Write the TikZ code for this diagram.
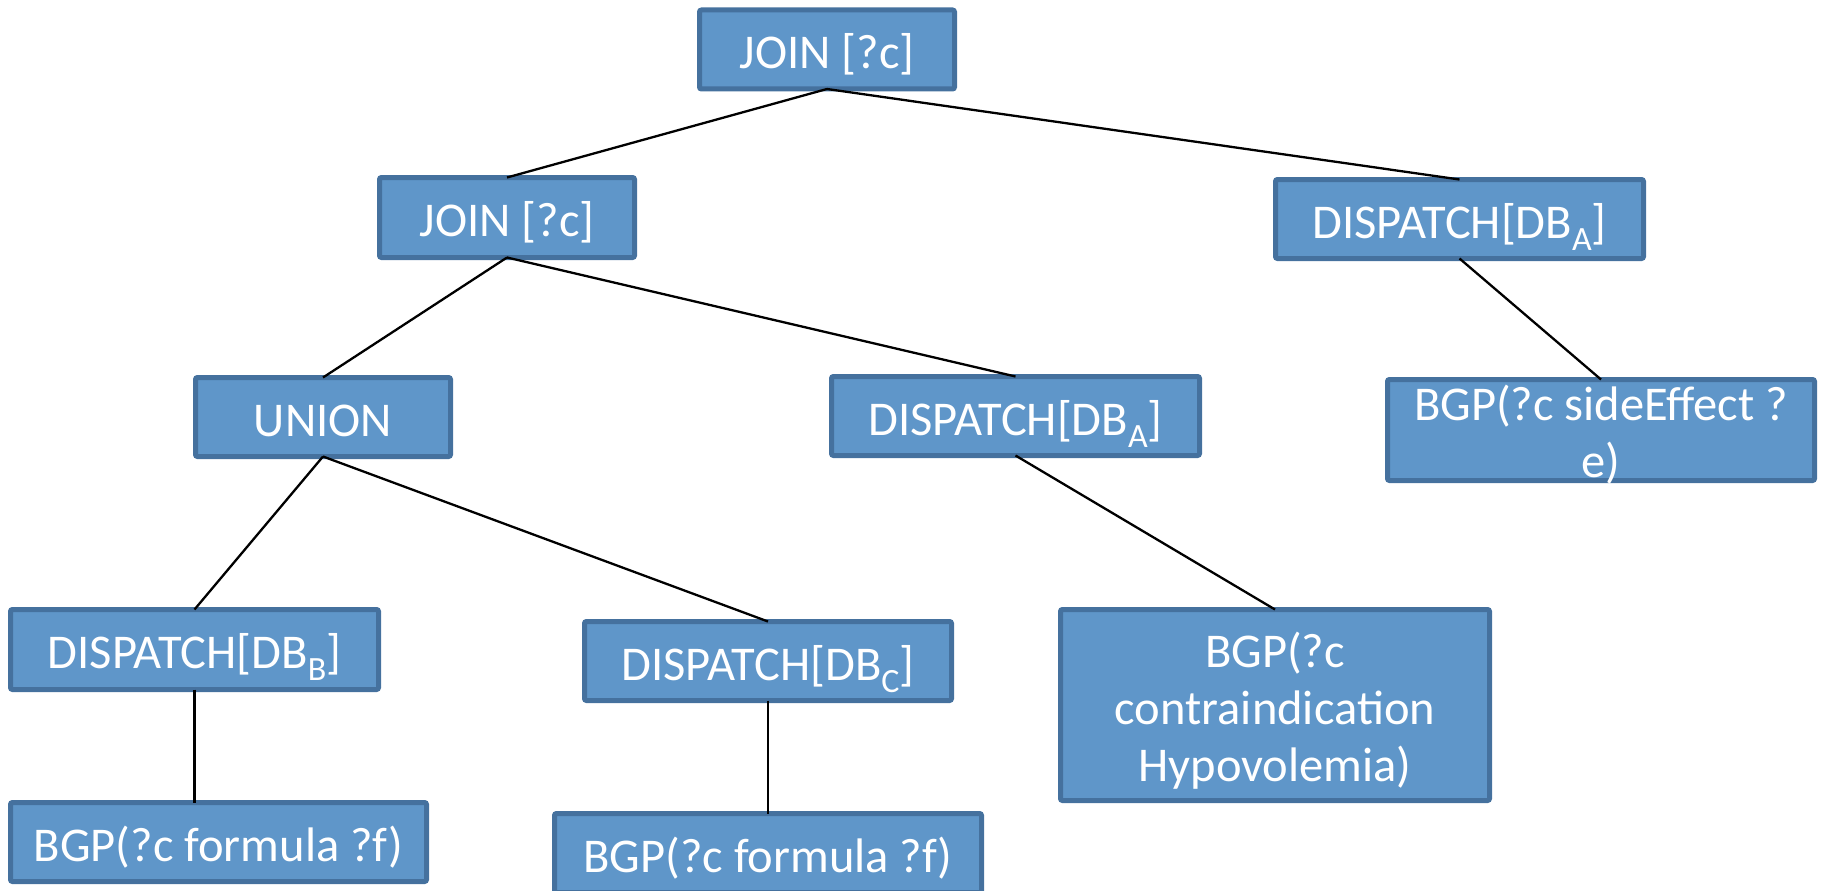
\documentclass[tikz,border=0pt]{standalone}
\usepackage{fontspec}
\setmainfont{Carlito}
\definecolor{boxfill}{HTML}{5F96C9}
\definecolor{boxdraw}{HTML}{45719E}
\newcommand{\boxfont}{\fontsize{48.5}{57}\selectfont\lineskiplimit=-100pt\relax}
\newcommand{\lstrut}{\rule[-9.5pt]{0pt}{57pt}}
\newcommand{\dbsub}[1]{\raisebox{-12pt}[0pt][0pt]{\fontsize{34}{34}\selectfont #1}}
\tikzset{
  box/.style={draw=boxdraw, fill=boxfill, line width=5pt, rounded corners=2pt, inner sep=0pt, outer sep=0pt},
  lbl/.style={text=white, font=\boxfont, align=center, inner sep=0pt, anchor=center},
  conn/.style={draw=black, line width=2.3pt}
}
\begin{document}
\begin{tikzpicture}[x=1pt,y=-1pt]
\useasboundingbox (0,0) rectangle (1824,891);
\clip (0,0) rectangle (1824,891);
% boxes
\node[box, minimum width=255pt, minimum height=79pt] (join1) at (827,49.5) {};
\node[box, minimum width=255pt, minimum height=80pt] (join2) at (507,217.5) {};
\node[box, minimum width=368pt, minimum height=79pt] (dispR) at (1459.5,219) {};
\node[box, minimum width=255pt, minimum height=79pt] (union) at (323,417) {};
\node[box, minimum width=368pt, minimum height=79pt] (dispM) at (1015.5,416) {};
\node[box, minimum width=427pt, minimum height=101pt] (bgpSE) at (1601,430) {};
\node[box, minimum width=368pt, minimum height=80pt] (dispB) at (194.5,649.5) {};
\node[box, minimum width=367pt, minimum height=79pt] (dispC) at (768,661) {};
\node[box, minimum width=429pt, minimum height=191pt] (bgpCI) at (1275,705) {};
\node[box, minimum width=416pt, minimum height=79pt] (bgpFL) at (218.5,842) {};
\node[box, minimum width=427pt, minimum height=79pt] (bgpFR) at (768,853) {};
% labels
\node[lbl] (join1-t) at (join1) {\lstrut JOIN [?c]};
\node[lbl] (join2-t) at (join2) {\lstrut JOIN [?c]};
\node[lbl] (dispR-t) at (dispR) {\lstrut DISPATCH[DB\dbsub{A}]};
\node[lbl] (union-t) at (union) {\lstrut UNION};
\node[lbl] (dispM-t) at (dispM) {\lstrut DISPATCH[DB\dbsub{A}]};
\node[lbl] (bgpSE-t) at (bgpSE) {\lstrut BGP(?c sideEffect ?\\\lstrut e)};
\node[lbl] (dispB-t) at (dispB) {\lstrut DISPATCH[DB\dbsub{B}]};
\node[lbl] (dispC-t) at (dispC) {\lstrut DISPATCH[DB\dbsub{C}]};
\node[lbl] (bgpCI-t) at (bgpCI) {\lstrut BGP(?c\\\lstrut contraindication\\\lstrut Hypovolemia)};
\node[lbl] (bgpFL-t) at (bgpFL) {\lstrut BGP(?c formula ?f)};
\node[lbl] (bgpFR-t) at (bgpFR) {\lstrut BGP(?c formula ?f)};
% connectors
\draw[conn] (join1.south) -- (join2.north);
\draw[conn] (join1.south) -- (dispR.north);
\draw[conn] (join2.south) -- (union.north);
\draw[conn] (join2.south) -- (dispM.north);
\draw[conn] (dispR.south) -- (bgpSE.north);
\draw[conn] (union.south) -- (dispB.north);
\draw[conn] (union.south) -- (dispC.north);
\draw[conn] (dispM.south) -- (bgpCI.north);
\draw[conn] (dispB.south) -- (dispB.south |- bgpFL.north);
\draw[conn] (dispC.south) -- (bgpFR.north);
\end{tikzpicture}
\end{document}
